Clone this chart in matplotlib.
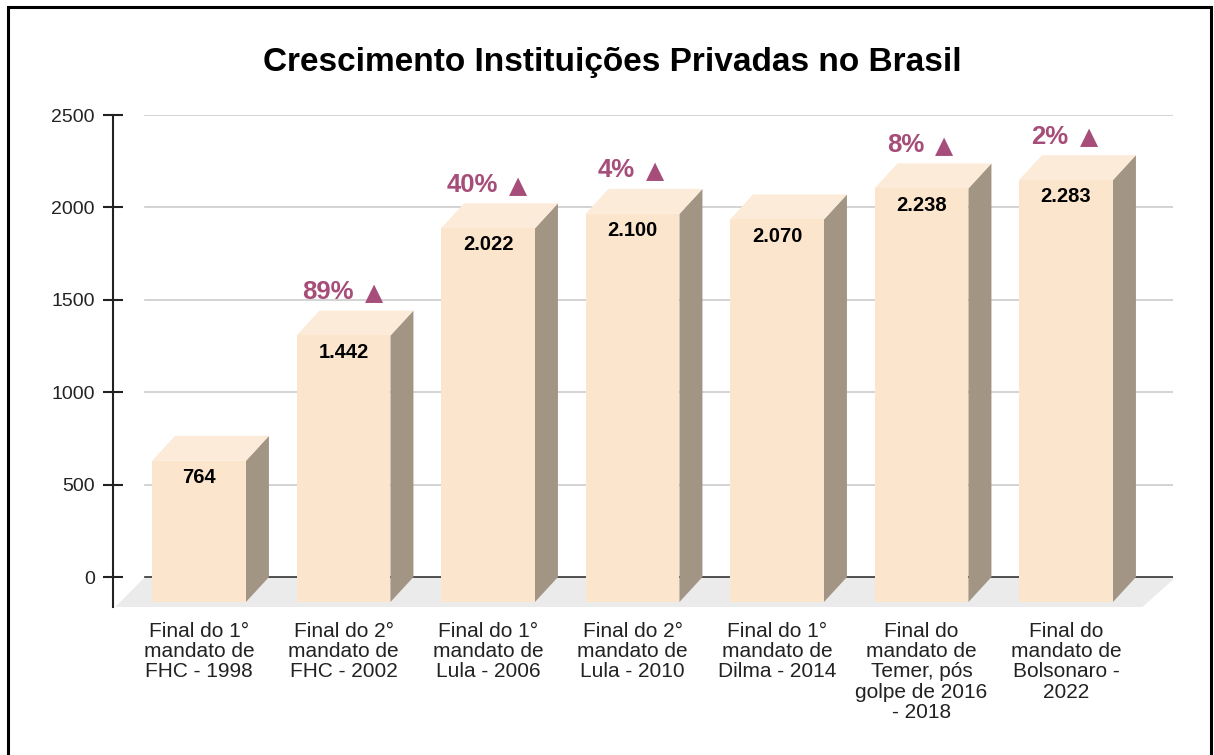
import matplotlib
matplotlib.use("Agg")
import matplotlib.pyplot as plt
from matplotlib.patches import Polygon, Rectangle

plt.rcParams['font.family'] = ['Liberation Sans', 'DejaVu Sans']

categorias = [
    "Final do 1°\nmandato de\nFHC - 1998",
    "Final do 2°\nmandato de\nFHC - 2002",
    "Final do 1°\nmandato de\nLula - 2006",
    "Final do 2°\nmandato de\nLula - 2010",
    "Final do 1°\nmandato de\nDilma - 2014",
    "Final do\nmandato de\nTemer, pós\ngolpe de 2016\n- 2018",
    "Final do\nmandato de\nBolsonaro -\n2022",
]
valores = [764, 1442, 2022, 2100, 2070, 2238, 2283]
rotulos = ["764", "1.442", "2.022", "2.100", "2.070", "2.238", "2.283"]
crescimento = ["", "89%", "40%", "4%", "", "8%", "2%"]

frente = '#fce5cd'
topo = '#fdebd9'
lado = '#a39584'
roxo = '#a64d79'

fig = plt.figure(figsize=(12.14, 7.55), dpi=100)
ax = fig.add_axes([113/1214, (755-607)/755, (1173-113)/1214, (607-115)/755])
ax.set_xlim(-0.5952, 6.7405)
ax.set_ylim(-162, 2500)

# profundidade do efeito 3D (em unidades de dados)
dx = 0.159
dy = 135
hw = 0.325

# piso
ax.add_patch(Polygon([(-0.58, -162), (6.53, -162), (6.76, 0), (-0.374, 0)],
                     closed=True, facecolor='#ebebeb', edgecolor='none', zorder=1))

for y in [500, 1000, 1500, 2000, 2500]:
    ax.plot([-0.374, 6.74], [y, y], color='#cccccc', lw=1.2, zorder=1)
ax.plot([-0.374, 6.76], [0, 0], color='#333333', lw=1.2, zorder=2)

for i, v in enumerate(valores):
    x0, x1 = i - hw, i + hw
    ax.add_patch(Polygon([(x1, -dy), (x1 + dx, 0), (x1 + dx, v), (x1, v - dy)],
                         closed=True, facecolor=lado, edgecolor='none', zorder=3))
    ax.add_patch(Polygon([(x0, v - dy), (x0 + dx, v), (x1 + dx, v), (x1, v - dy)],
                         closed=True, facecolor=topo, edgecolor='none', zorder=3))
    ax.add_patch(Rectangle((x0, -dy), 2 * hw, v, facecolor=frente,
                           edgecolor='none', zorder=4))
    ax.text(i, v - 225, rotulos[i], ha='center', va='center', fontsize=14.5,
            fontweight='bold', color='black', zorder=5)
    if crescimento[i]:
        t = ax.text(i - 0.11, v + 100, crescimento[i], ha='center', va='center',
                    fontsize=18.5, fontweight='bold', color=roxo, zorder=5)
        ax.annotate("▲", xy=(1, v + 96), xycoords=(t, 'data'),
                    xytext=(8, 0), textcoords='offset points',
                    ha='left', va='center', fontsize=17, family='DejaVu Sans',
                    color=roxo, zorder=5)
    ax.text(i, -243, categorias[i], ha='center', va='top', fontsize=15,
            color='#222222', linespacing=1.08, clip_on=False)

ax.set_yticks([0, 500, 1000, 1500, 2000, 2500])
ax.set_xticks([])
ax.tick_params(axis='y', direction='inout', length=14.4, width=1.5,
               pad=6, labelsize=14, colors='#222222')
for s in ['top', 'right', 'bottom']:
    ax.spines[s].set_visible(False)
ax.spines['left'].set_linewidth(1.5)
ax.spines['left'].set_color('#222222')

fig.text(612/1214, 1 - 62/755, "Crescimento Instituições Privadas no Brasil",
         ha='center', va='center', fontsize=24, fontweight='bold', color='black')

# moldura
fig.patches.append(Rectangle((7.5/1214, -0.05), (1210.5-7.5)/1214, 1.05 - 7.5/755,
                             transform=fig.transFigure, fill=False,
                             edgecolor='black', lw=2.2))

fig.savefig('out.png', dpi=100)
